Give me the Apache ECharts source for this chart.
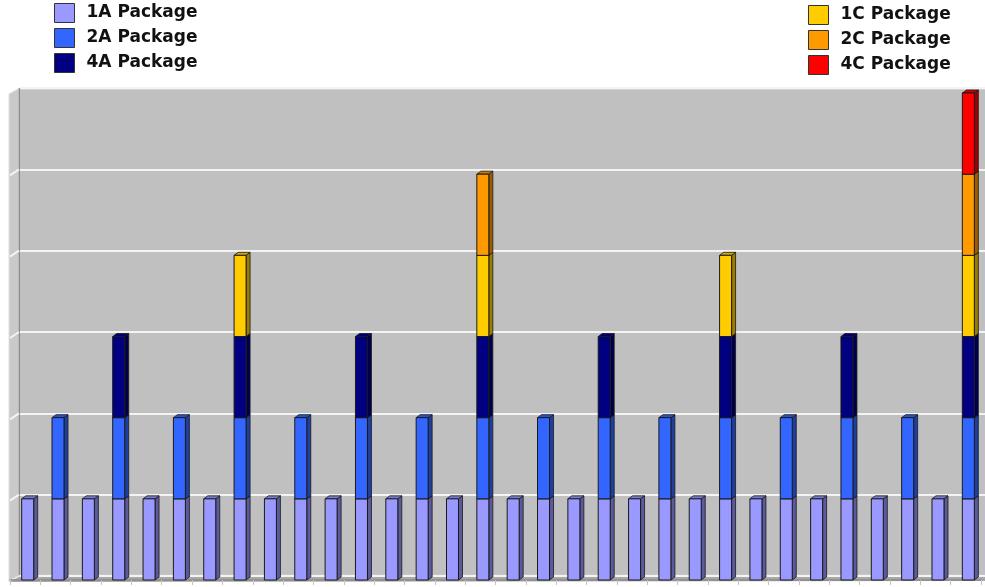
<!DOCTYPE html>
<html><head><meta charset="utf-8">
<script src="https://cdn.jsdelivr.net/npm/echarts@6/dist/echarts.min.js"></script>
<style>html,body{margin:0;padding:0;background:#fff}#c{width:985px;height:587px}</style>
</head><body><div id="c"></div>
<script>
const categories = ['1','2','3','4','5','6','7','8','9','10','11','12','13','14','15','16',
  '17','18','19','20','21','22','23','24','25','26','27','28','29','30','31','32'];
const pkg1A = [1,1,1,1,1,1,1,1,1,1,1,1,1,1,1,1,1,1,1,1,1,1,1,1,1,1,1,1,1,1,1,1];
const pkg2A = [0,1,0,1,0,1,0,1,0,1,0,1,0,1,0,1,0,1,0,1,0,1,0,1,0,1,0,1,0,1,0,1];
const pkg4A = [0,0,0,1,0,0,0,1,0,0,0,1,0,0,0,1,0,0,0,1,0,0,0,1,0,0,0,1,0,0,0,1];
const pkg1C = [0,0,0,0,0,0,0,1,0,0,0,0,0,0,0,1,0,0,0,0,0,0,0,1,0,0,0,0,0,0,0,1];
const pkg2C = [0,0,0,0,0,0,0,0,0,0,0,0,0,0,0,1,0,0,0,0,0,0,0,0,0,0,0,0,0,0,0,1];
const pkg4C = [0,0,0,0,0,0,0,0,0,0,0,0,0,0,0,0,0,0,0,0,0,0,0,0,0,0,0,0,0,0,0,1];
const seriesNames = ['1A Package','2A Package','4A Package','1C Package','2C Package','4C Package'];
const seriesValues = [pkg1A, pkg2A, pkg4A, pkg1C, pkg2C, pkg4C];
const gridTicks = [1,2,3,4,5];

const frontColors = ['#9999ff','#3366ff','#000080','#ffcc00','#ff9900','#ff0000'];
const sideColors  = ['#5a5a9c','#1f3f9e','#00004a','#9c7c00','#9c5c00','#9c0000'];
const topColors   = ['#7a7acc','#2a52cc','#000066','#ccaa00','#cc7a00','#cc0000'];

const chart = echarts.init(document.getElementById('c'));

const running = categories.map(() => 0);
const barSeries = seriesValues.map((vals, k) => {
  const data = [];
  vals.forEach((v, i) => {
    if (v > 0) { data.push([i, running[i], running[i] + v]); running[i] += v; }
  });
  return {
    type: 'custom', name: seriesNames[k], xAxisIndex: 0, yAxisIndex: 0,
    itemStyle: { color: frontColors[k] },
    encode: { x: 0, y: [1, 2] },
    data: data, z: 5,
    renderItem: function (params, api) {
      const p0 = api.coord([api.value(0), api.value(1)]);
      const p1 = api.coord([api.value(0), api.value(2)]);
      const bw = 12, dx = 4, dy = 3, off = 2.5;
      const x = p0[0] - bw / 2 + off;
      const yb = p0[1], yt = p1[1];
      return {
        type: 'group', children: [
          { type: 'polygon', shape: { points: [[x + bw, yt], [x + bw + dx, yt - dy], [x + bw + dx, yb - dy], [x + bw, yb]] },
            style: { fill: sideColors[k], stroke: '#1a1a1a', lineWidth: 0.8 } },
          { type: 'polygon', shape: { points: [[x, yt], [x + dx, yt - dy], [x + bw + dx, yt - dy], [x + bw, yt]] },
            style: { fill: topColors[k], stroke: '#1a1a1a', lineWidth: 0.8 } },
          { type: 'rect', shape: { x: x, y: yt, width: bw, height: yb - yt },
            style: { fill: frontColors[k], stroke: '#1a1a1a', lineWidth: 1 } }
        ]
      };
    }
  };
});

const wallLines = {
  type: 'custom', name: 'wall', xAxisIndex: 1, yAxisIndex: 1, silent: true, z: 1,
  data: gridTicks.map(v => [0, v]),
  renderItem: function (params, api) {
    const p = api.coord([api.value(0), api.value(1)]);
    return { type: 'line', shape: { x1: p[0] - 10, y1: p[1] + 6, x2: p[0] - 1, y2: p[1] },
      style: { stroke: '#f4f4f4', lineWidth: 2 } };
  }
};

const legendText = { fontFamily: 'DejaVu Sans', fontWeight: 'bold', fontSize: 17, color: '#111', padding: [0, 0, 0, 7] };
function legendData(ids) {
  return ids.map(k => ({ name: seriesNames[k], icon: 'rect',
    itemStyle: { color: frontColors[k], borderColor: '#333', borderWidth: 1 } }));
}

chart.setOption({
  animation: false,
  backgroundColor: '#ffffff',
  legend: [
    { orient: 'vertical', left: 54, top: 3, padding: 0, itemWidth: 20, itemHeight: 19, itemGap: 5,
      selectedMode: false, textStyle: legendText, data: legendData([0, 1, 2]) },
    { orient: 'vertical', left: 808, top: 5, padding: 0, itemWidth: 20, itemHeight: 19, itemGap: 5,
      selectedMode: false, textStyle: legendText, data: legendData([3, 4, 5]) }
  ],
  graphic: [
    { type: 'rect', z: -10, shape: { x: 20, y: 88, width: 965, height: 488 }, style: { fill: '#c0c0c0' } },
    { type: 'line', z: -9, shape: { x1: 20, y1: 88.5, x2: 985, y2: 88.5 }, style: { stroke: '#e6e6e6', lineWidth: 2 } },
    { type: 'polygon', z: -9, shape: { points: [[9, 94], [20, 88], [20, 576], [9, 582]] }, style: { fill: '#c9c9c9', stroke: '#dedede', lineWidth: 1 } },
    { type: 'line', z: -8, shape: { x1: 19.5, y1: 88, x2: 19.5, y2: 576 }, style: { stroke: '#8c8c8c', lineWidth: 1.5 } },
    { type: 'polygon', z: -8, shape: { points: [[9, 582], [20, 575], [985, 575], [985, 581]] }, style: { fill: '#a8a8a8' } },
    { type: 'line', z: -7, shape: { x1: 9, y1: 581.5, x2: 20, y2: 575.5 }, style: { stroke: '#e8e8e8', lineWidth: 1.5 } },
    { type: 'line', z: -7, shape: { x1: 20, y1: 575, x2: 985, y2: 575 }, style: { stroke: '#cfcfcf', lineWidth: 1 } }
  ],
  grid: [
    { left: 10, right: 4, top: 93, bottom: 7 },
    { left: 20, right: 0, top: 88, bottom: 11 }
  ],
  xAxis: [
    { type: 'category', gridIndex: 0, data: categories,
      axisLine: { show: true, lineStyle: { color: '#8a8a8a', width: 1.5 } },
      axisTick: { show: true, length: 5, lineStyle: { color: '#c4c4c4' } },
      axisLabel: { show: false }, splitLine: { show: false } },
    { type: 'value', gridIndex: 1, min: 0, max: 1, show: false }
  ],
  yAxis: [
    { type: 'value', gridIndex: 0, min: 0, max: 6, interval: 1, show: false, splitLine: { show: false } },
    { type: 'value', gridIndex: 1, min: 0, max: 6, interval: 1,
      axisLine: { show: false }, axisTick: { show: false }, axisLabel: { show: false },
      splitLine: { show: true, lineStyle: { color: '#f4f4f4', width: 2 } } }
  ],
  series: [wallLines].concat(barSeries)
});
</script>
</body></html>
